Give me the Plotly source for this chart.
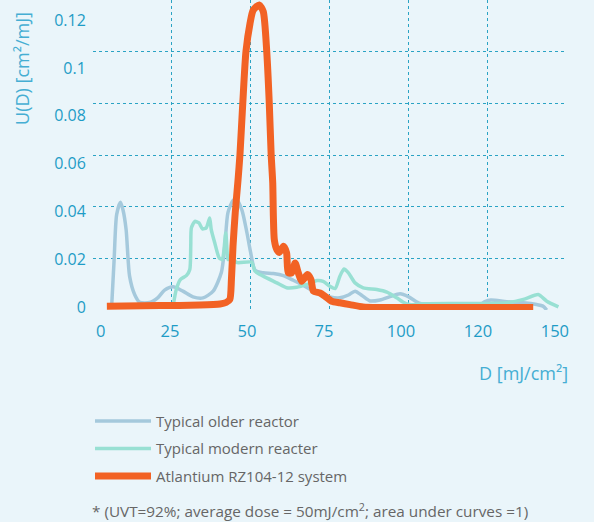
import plotly.graph_objects as go

# ---- data ----
older_x = [5.9, 6.7, 7.5, 8.7, 9.5, 10.5, 11.6, 13.2, 14.8, 18.0, 20.6, 22.7, 25.4, 28.5, 31.7,
           34.9, 38.1, 40.7, 41.8, 42.8, 44.4, 45.4, 47.2, 48.8, 50.0, 51.4, 54.0, 57.2, 60.4,
           63.5, 66.7, 69.9, 72.0, 75.2, 78.3, 81.0, 83.1, 85.3, 87.9, 91.0, 94.2, 97.4, 100.0,
           103.2, 105.8, 113.2, 122.7, 124.3, 126.2, 131.2, 136.5, 140.7, 142.7, 143.9]
older_y = [0.0010, 0.0195, 0.0369, 0.0417, 0.0388, 0.0311, 0.0131, 0.0060, 0.0030, 0.0029,
           0.0048, 0.0077, 0.0090, 0.0073, 0.0051, 0.0047, 0.0073, 0.0145, 0.0247, 0.0377,
           0.0424, 0.0429, 0.0388, 0.0300, 0.0222, 0.0154, 0.0144, 0.0141, 0.0133, 0.0115,
           0.0095, 0.0073, 0.0063, 0.0050, 0.0047, 0.0058, 0.0073, 0.0056, 0.0035, 0.0039,
           0.0052, 0.0063, 0.0052, 0.0028, 0.0021, 0.0019, 0.0019, 0.0033, 0.0039, 0.0032,
           0.0028, 0.0021, 0.0015, 0.0000]

modern_x = [25.4, 26.4, 27.7, 29.6, 30.7, 31.0, 31.2, 32.3, 33.6, 34.7, 35.9, 37.0, 37.5, 38.6,
            40.0, 41.0, 42.1, 42.8, 43.5, 45.5, 50.3, 51.4, 54.0, 58.3, 61.4, 64.6, 67.8, 71.0,
            73.0, 75.2, 76.8, 78.3, 79.6, 81.0, 83.1, 85.7, 90.0, 93.2, 96.3, 98.4, 100.5,
            104.8, 113.2, 122.7, 131.2, 136.5, 141.2, 143.9, 147.6]
modern_y = [0.0014, 0.0079, 0.0118, 0.0133, 0.0157, 0.0247, 0.0318, 0.0343, 0.0337, 0.0314,
            0.0318, 0.0356, 0.0311, 0.0260, 0.0202, 0.0195, 0.0298, 0.0195, 0.0211, 0.0184,
            0.0185, 0.0150, 0.0131, 0.0105, 0.0086, 0.0088, 0.0099, 0.0114, 0.0111, 0.0091,
            0.0083, 0.0131, 0.0159, 0.0144, 0.0105, 0.0086, 0.0079, 0.0069, 0.0047, 0.0030,
            0.0021, 0.0024, 0.0025, 0.0025, 0.0028, 0.0041, 0.0060, 0.0034, 0.0012]

atl_x = [4.4, 21.3, 33.9, 40.3, 42.2, 43.4, 43.9, 44.4, 45.1, 46.0, 46.6, 47.5, 48.5, 49.8,
         50.8, 52.7, 54.0, 55.1, 55.9, 56.5, 57.0, 57.2, 57.5, 58.3, 59.1, 60.4, 61.4, 61.9,
         63.0, 64.1, 65.1, 66.2, 68.0, 69.1, 69.9, 72.0, 73.6, 75.7, 78.3, 81.5, 85.6, 91.0, 139.6]
atl_y = [0.0015, 0.0017, 0.0019, 0.0023, 0.0029, 0.0041, 0.0118, 0.0247, 0.0376, 0.0504,
         0.0601, 0.0801, 0.1000, 0.1110, 0.1161, 0.1181, 0.1155, 0.1000, 0.0801, 0.0601,
         0.0492, 0.0363, 0.0272, 0.0234, 0.0223, 0.0247, 0.0221, 0.0144, 0.0144, 0.0182,
         0.0144, 0.0111, 0.0137, 0.0118, 0.0073, 0.0066, 0.0053, 0.0034, 0.0028, 0.0021,
         0.0012, 0.0010, 0.0010]

series_names = ["Typical older reactor", "Typical modern reacter", "Atlantium RZ104-12 system"]
x_tick_labels = ["0", "25", "50", "75", "100", "120", "150"]
y_tick_labels = ["0", "0.02", "0.04", "0.06", "0.08", "0.1", "0.12"]

# ---- styling ----
BG = "#EAF5FA"
TICK_COLOR = "#1E9CC6"
TITLE_COLOR = "#45AED3"
GRID_COLOR = "#2AA3C4"
TEXT_GRAY = "#666666"
FONT = "Open Sans"

fig = go.Figure()
fig.add_trace(go.Scatter(x=older_x, y=older_y, name=series_names[0], mode="lines",
                         line=dict(color="#A5C9DC", width=3.5, shape="spline", smoothing=0.7),
                         legendgroup="a"))
fig.add_trace(go.Scatter(x=modern_x, y=modern_y, name=series_names[1], mode="lines",
                         line=dict(color="#98E0D3", width=3.5, shape="spline", smoothing=0.6),
                         legendgroup="b"))
fig.add_trace(go.Scatter(x=atl_x, y=atl_y, name=series_names[2], mode="lines",
                         line=dict(color="#F26224", width=7, shape="spline", smoothing=0.6),
                         legendgroup="c"))
# invisible carrier for the label axes
fig.add_trace(go.Scatter(x=[None], y=[None], xaxis="x2", yaxis="y2", showlegend=False,
                         hoverinfo="skip"))

fig.update_layout(
    width=594, height=522,
    paper_bgcolor=BG, plot_bgcolor=BG,
    margin=dict(l=93, r=28, t=0, b=211.5),
    font=dict(family=FONT),
    xaxis=dict(range=[0, 150], tickvals=[0, 25, 50, 75, 100, 125], showticklabels=False,
               showgrid=True, gridcolor=GRID_COLOR, griddash="dot", gridwidth=1,
               zeroline=False, showline=False, ticks=""),
    yaxis=dict(range=[0, 0.12], tickvals=[0, 0.02, 0.04, 0.06, 0.08, 0.1], showticklabels=False,
               showgrid=True, gridcolor=GRID_COLOR, griddash="dot", gridwidth=1,
               zeroline=False, showline=False, ticks=""),
    xaxis2=dict(overlaying="x", anchor="y2", side="bottom", range=[0, 153.6],
                tickvals=[2.5, 25, 50, 75, 100, 125, 150], ticktext=x_tick_labels,
                showgrid=False, zeroline=False, showline=False,
                ticks="outside", ticklen=6, tickcolor="rgba(0,0,0,0)",
                tickfont=dict(size=16.5, color=TICK_COLOR, family=FONT)),
    yaxis2=dict(overlaying="y", anchor="x2", side="left", range=[-0.00125, 0.1284],
                tickvals=[0, 0.02, 0.04, 0.06, 0.08, 0.1, 0.12], ticktext=y_tick_labels,
                showgrid=False, zeroline=False, showline=False,
                ticks="outside", ticklen=3, tickcolor="rgba(0,0,0,0)",
                tickfont=dict(size=16, color=TICK_COLOR, family=FONT)),
    showlegend=True,
    legend=dict(x=(90 - 93) / 473, y=(310.5 - 405.5) / 310.5, xanchor="left", yanchor="top",
                bgcolor="rgba(0,0,0,0)", font=dict(size=15, color=TEXT_GRAY, family=FONT),
                itemwidth=56, tracegroupgap=5, traceorder="grouped"),
)

fig.add_annotation(text="U(D) [cm²/mJ]", xref="paper", yref="paper",
                   x=(22 - 93) / 473, y=(310.5 - 69) / 310.5, textangle=-90,
                   showarrow=False, xanchor="center", yanchor="middle",
                   font=dict(size=18, color=TITLE_COLOR, family=FONT))
fig.add_annotation(text="D [mJ/cm²]", xref="paper", yref="paper",
                   x=(570 - 93) / 473, y=(310.5 - 374) / 310.5,
                   showarrow=False, xanchor="right", yanchor="middle",
                   font=dict(size=18, color=TITLE_COLOR, family=FONT))
fig.add_annotation(text="* (UVT=92%; average dose = 50mJ/cm<sup>2</sup>; area under curves =1)",
                   xref="paper", yref="paper",
                   x=(90 - 93) / 473, y=(310.5 - 511) / 310.5,
                   showarrow=False, xanchor="left", yanchor="middle",
                   font=dict(size=15.3, color=TEXT_GRAY, family=FONT))

fig.write_html("out.html", config={"displayModeBar": False},
               post_script="document.body.style.margin='0';document.body.style.background='" + BG + "';")
